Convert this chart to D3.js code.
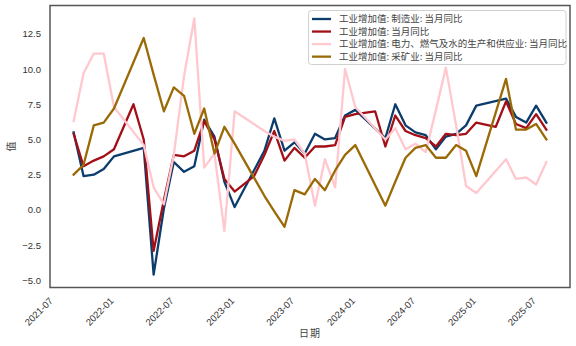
<!DOCTYPE html>
<html>
<head>
<meta charset="utf-8">
<script src="https://d3js.org/d3.v7.min.js"></script>
<style>
  html, body { margin: 0; padding: 0; background: #fff; }
  svg { display: block; }
</style>
</head>
<body>
<svg id="chart" width="576" height="346"></svg>
<script>
// ---- data (monthly; Jan folded into Jan-Feb, reported in Feb) ----
const months = [
  "2021-08","2021-09","2021-10","2021-11","2021-12",
  "2022-02","2022-03","2022-04","2022-05","2022-06","2022-07","2022-08","2022-09","2022-10","2022-11","2022-12",
  "2023-02","2023-03","2023-04","2023-05","2023-06","2023-07","2023-08","2023-09","2023-10","2023-11","2023-12",
  "2024-02","2024-03","2024-04","2024-05","2024-06","2024-07","2024-08","2024-09","2024-10","2024-11","2024-12",
  "2025-02","2025-03","2025-04","2025-05","2025-06","2025-07"
];
const manufacturing = [
  5.5, 2.4, 2.5, 2.9, 3.8,
  null, 4.4, -4.6, 0.1, 3.4, 2.7, 3.1, 6.4, 5.2, 2.0, 0.2,
  null, 4.2, 6.5, 4.2, 4.8, 4.0, 5.4, 5.0, 5.1, 6.7, 7.1,
  null, 5.1, 7.5, 6.0, 5.5, 5.3, 4.3, 5.2, 5.4, 6.0, 7.4,
  null, 7.9, 6.6, 6.2, 7.4, 6.2
];
const total = [
  5.4, 3.1, 3.5, 3.8, 4.3,
  7.5, 5.0, -2.9, 0.7, 3.9, 3.8, 4.2, 6.3, 5.0, 2.2, 1.3,
  2.4, 3.9, 5.6, 3.5, 4.4, 3.7, 4.5, 4.5, 4.6, 6.6, 6.8,
  7.0, 4.5, 6.7, 5.6, 5.3, 5.1, 4.5, 5.4, 5.3, 5.4, 6.2,
  5.9, 7.7, 6.1, 5.8, 6.8, 5.7
];
const utilities = [
  6.3, 9.7, 11.1, 11.1, 7.3,
  null, 4.6, 1.6, 0.4, 3.9, 9.5, 13.6, 3.0, 4.0, -1.5, 7.0,
  null, 5.6, 5.2, 4.9, 5.0, 4.0, 0.3, 3.6, 1.6, 10.0, 7.3,
  null, 5.0, 5.8, 4.3, 4.7, 4.1, 7.1, 10.1, 6.0, 1.7, 1.2,
  null, 3.6, 2.2, 2.3, 1.8, 3.4
];
const mining = [
  2.5, 3.2, 6.0, 6.2, 7.2,
  null, 12.2, 9.6, 7.0, 8.7, 8.1, 5.4, 7.2, 4.0, 5.9, 4.7,
  null, 1.0, -0.1, -1.2, 1.4, 1.1, 2.2, 1.4, 2.8, 3.9, 4.6,
  null, 0.3, 2.0, 3.7, 4.4, 4.6, 3.7, 3.7, 4.6, 4.2, 2.4,
  null, 9.3, 5.7, 5.7, 6.1, 5.0
];
const seriesNames = [
  "工业增加值: 制造业: 当月同比",
  "工业增加值: 当月同比",
  "工业增加值: 电力、燃气及水的生产和供应业: 当月同比",
  "工业增加值: 采矿业: 当月同比"
];
const seriesColors = ["#0c3c6c", "#a30f16", "#ffc8cf", "#9a6a06"];
const yTicks = [-5, -2.5, 0, 2.5, 5, 7.5, 10, 12.5];
const xTicks = ["2021-07","2022-01","2022-07","2023-01","2023-07","2024-01","2024-07","2025-01","2025-07"];
const xTitle = "日期";
const yTitle = "值";

// ---- layout ----
const L = 50, R = 570, T = 5.5, B = 287.5;
const svg = d3.select("#chart");
const parseMonth = d3.timeParse("%Y-%m");
const monthEnd = s => d3.timeDay.offset(d3.timeMonth.offset(parseMonth(s), 1), -1);
const dates = months.map(monthEnd);

const allSeries = [manufacturing, total, utilities, mining];
const dExt = d3.extent(dates);
const span = dExt[1] - dExt[0];
const x = d3.scaleTime()
  .domain([new Date(+dExt[0] - span * 0.05), new Date(+dExt[1] + span * 0.05)])
  .range([L, R]);
const vals = allSeries.flat().filter(v => v != null);
const vExt = d3.extent(vals);
const vr = vExt[1] - vExt[0];
const y = d3.scaleLinear()
  .domain([vExt[0] - vr * 0.05, vExt[1] + vr * 0.05])
  .range([B, T]);

const tickFont = "'Liberation Sans', Arial, 'DejaVu Sans', sans-serif";
const cjkFont = "'Noto Sans CJK SC', 'Noto Sans', sans-serif";

// y axis
const yAxis = svg.append("g")
  .attr("transform", `translate(${L},0)`)
  .call(d3.axisLeft(y).tickValues(yTicks).tickFormat(d3.format(".1f")).tickSize(0).tickPadding(9));
yAxis.select(".domain").remove();
yAxis.selectAll("text")
  .attr("font-family", tickFont).attr("font-size", 9.5).attr("fill", "#333");

// x axis (rotated labels)
const xg = svg.append("g");
xTicks.forEach(t => {
  const d = parseMonth(t);
  const px = x(d);
  xg.append("text")
    .attr("transform", `translate(${px},${B + 14}) rotate(-45)`)
    .attr("text-anchor", "end")
    .attr("font-family", tickFont).attr("font-size", 9.5).attr("fill", "#333")
    .text(t);
});

// axis titles
svg.append("text")
  .attr("x", (L + R) / 2).attr("y", 337)
  .attr("text-anchor", "middle")
  .attr("font-family", cjkFont).attr("font-size", 10).attr("fill", "#444")
  .attr("letter-spacing", 1)
  .text(xTitle);
svg.append("text")
  .attr("transform", `translate(15,${(T + B) / 2}) rotate(-90)`)
  .attr("text-anchor", "middle")
  .attr("font-family", cjkFont).attr("font-size", 10).attr("fill", "#444")
  .text(yTitle);

// lines
const line = d3.line().x(d => x(d.date)).y(d => y(d.v));
allSeries.forEach((s, i) => {
  const pts = s.map((v, k) => ({ date: dates[k], v })).filter(p => p.v != null);
  svg.append("path")
    .datum(pts)
    .attr("d", line)
    .attr("fill", "none")
    .attr("stroke", seriesColors[i])
    .attr("stroke-width", 2.3)
    .attr("stroke-linejoin", "round")
    .attr("stroke-linecap", "square");
});

// frame
svg.append("rect")
  .attr("x", L).attr("y", T).attr("width", R - L).attr("height", B - T)
  .attr("fill", "none").attr("stroke", "#555").attr("stroke-width", 1.5);

// legend
const lg = svg.append("g");
lg.append("rect")
  .attr("x", 308.5).attr("y", 10.5).attr("width", 257.5).attr("height", 54)
  .attr("rx", 3).attr("fill", "#fff").attr("fill-opacity", 0.8)
  .attr("stroke", "#d0d0d0").attr("stroke-width", 1);
seriesNames.forEach((n, i) => {
  const cy = 19 + i * 12.55;
  lg.append("line")
    .attr("x1", 312).attr("x2", 331).attr("y1", cy).attr("y2", cy)
    .attr("stroke", seriesColors[i]).attr("stroke-width", 2.3);
  lg.append("text")
    .attr("x", 339).attr("y", cy).attr("dy", "0.35em")
    .attr("font-family", cjkFont).attr("font-size", 9.5).attr("fill", "#444")
    .text(n);
});
</script>
</body>
</html>
